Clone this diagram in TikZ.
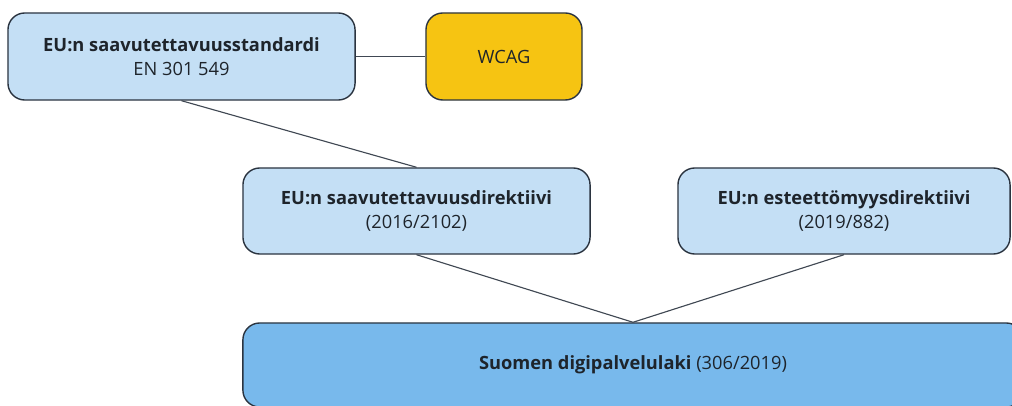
\documentclass[tikz,border=0pt]{standalone}
\usepackage{fontspec}
\setmainfont{Open Sans}
\usepackage{xcolor}
\definecolor{lightblue}{HTML}{C4DFF5}
\definecolor{midblue}{HTML}{78B9EC}
\definecolor{wcaggold}{HTML}{F6C412}
\definecolor{boxline}{HTML}{2B3440}
\definecolor{textdark}{HTML}{1E242B}

\begin{document}
\begin{tikzpicture}[x=0.025cm,y=-0.025cm]
\tikzset{box/.style = {shape=rectangle,draw=boxline,line width=1pt,rounded corners=0.42cm,
  fill=lightblue,align=center,text=textdark,font=\fontsize{13}{17.5}\selectfont}}
\tikzset{edge/.style = {draw=boxline!90,line width=0.8pt}}
\useasboundingbox (0,0) rectangle (1012,406);
\clip (0,0) rectangle (1012,406);
% vertices
\node[box,minimum width=8.675cm,minimum height=2.175cm] (std) at (181.5,56.5)
  {\textbf{EU:n saavutettavuusstandardi}\\EN 301 549};
\node[box,fill=wcaggold,minimum width=3.9cm,minimum height=2.175cm] (wcag) at (504,56.5) {WCAG};
\node[box,minimum width=8.675cm,minimum height=2.15cm] (sd) at (416.5,211)
  {\textbf{EU:n saavutettavuusdirektiivi}\\(2016/2102)};
\node[box,minimum width=8.3cm,minimum height=2.15cm] (ed) at (844,211)
  {\textbf{EU:n esteettömyysdirektiivi}\\(2019/882)};
\node[box,fill=midblue,minimum width=19.5cm,minimum height=2.1cm] (law) at (633,365)
  {\textbf{Suomen digipalvelulaki} (306/2019)};
%edges
\draw[edge] (std) to (wcag);
\draw[edge] (std.south) to (sd.north);
\draw[edge] (sd.south) to (law.north);
\draw[edge] (ed.south) to (law.north);
\end{tikzpicture}
\end{document}
